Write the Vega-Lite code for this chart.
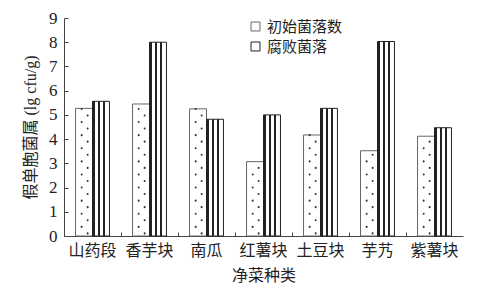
{
  "$schema": "https://vega.github.io/schema/vega-lite/v6.json",
  "width": 399,
  "height": 218,
  "autosize": {"type": "none"},
  "padding": {"left": 64, "top": 18, "right": 15, "bottom": 57},
  "background": "white",
  "config": {
    "view": {"stroke": null},
    "font": "Liberation Serif",
    "axis": {"labelFont": "Liberation Serif, Noto Sans CJK SC", "titleFont": "Liberation Serif, Noto Sans CJK SC"}
  },
  "data": {
    "values": [
      {"veg": "山药段", "series": "初始菌落数", "v": 5.27},
      {"veg": "山药段", "series": "腐败菌落", "v": 5.56},
      {"veg": "香芋块", "series": "初始菌落数", "v": 5.45},
      {"veg": "香芋块", "series": "腐败菌落", "v": 8.0},
      {"veg": "南瓜", "series": "初始菌落数", "v": 5.25},
      {"veg": "南瓜", "series": "腐败菌落", "v": 4.82},
      {"veg": "红薯块", "series": "初始菌落数", "v": 3.07},
      {"veg": "红薯块", "series": "腐败菌落", "v": 5.0},
      {"veg": "土豆块", "series": "初始菌落数", "v": 4.17},
      {"veg": "土豆块", "series": "腐败菌落", "v": 5.27},
      {"veg": "芋艿", "series": "初始菌落数", "v": 3.52},
      {"veg": "芋艿", "series": "腐败菌落", "v": 8.03},
      {"veg": "紫薯块", "series": "初始菌落数", "v": 4.12},
      {"veg": "紫薯块", "series": "腐败菌落", "v": 4.47}
    ]
  },
  "encoding": {
    "x": {
      "field": "veg", "type": "nominal", "sort": null,
      "scale": {"paddingInner": 0, "paddingOuter": 0},
      "axis": {
        "title": "净菜种类", "titleFontSize": 16, "titleFontWeight": "normal", "titleColor": "#222", "titlePadding": 9,
        "labelAngle": 0, "labelFontSize": 16, "labelColor": "#222", "labelPadding": 10,
        "domainColor": "#444", "tickColor": "#444", "tickSize": -4, "bandPosition": 0
      }
    },
    "y": {
      "field": "v", "type": "quantitative",
      "scale": {"domain": [0, 9]},
      "axis": {
        "title": "假单胞菌属 (lg cfu/g)", "titleFontSize": 16, "titleFontWeight": "normal", "titleColor": "#222", "titlePadding": 10,
        "values": [0, 1, 2, 3, 4, 5, 6, 7, 8, 9], "grid": false,
        "labelFontSize": 17, "labelColor": "#222", "labelPadding": 11,
        "domainColor": "#444", "tickColor": "#444", "tickSize": -4
      }
    }
  },
  "layer": [
    {
      "mark": {"type": "bar", "strokeWidth": 1},
      "encoding": {
        "xOffset": {
          "field": "series", "type": "nominal", "sort": ["初始菌落数", "腐败菌落"],
          "scale": {"paddingInner": 0, "paddingOuter": 0.68}
        },
        "fill": {
          "condition": {
            "test": "datum.series === '腐败菌落'",
            "value": {"gradient": "linear", "x1": 0, "y1": 0, "x2": 1, "y2": 0, "stops": [
              {"offset": 0, "color": "#222"}, {"offset": 0.12, "color": "#222"},
              {"offset": 0.12, "color": "#fff"}, {"offset": 0.34, "color": "#fff"},
              {"offset": 0.34, "color": "#222"}, {"offset": 0.42, "color": "#222"},
              {"offset": 0.42, "color": "#fff"}, {"offset": 0.64, "color": "#fff"},
              {"offset": 0.64, "color": "#222"}, {"offset": 0.72, "color": "#222"},
              {"offset": 0.72, "color": "#fff"}, {"offset": 1, "color": "#fff"}
            ]}
          },
          "value": "#ffffff"
        },
        "stroke": {
          "field": "series", "type": "nominal", "sort": ["初始菌落数", "腐败菌落"],
          "scale": {"domain": ["初始菌落数", "腐败菌落"], "range": ["#666666", "#222222"]},
          "legend": {
            "title": null, "orient": "none", "legendX": 184, "legendY": 1,
            "symbolSize": 80, "symbolStrokeWidth": 1, "symbolFillColor": "#ffffff",
            "labelFont": "Noto Sans CJK SC", "labelFontSize": 15, "labelColor": "#222", "rowPadding": 4, "labelOffset": 4,
            "encode": {
              "symbols": {
                "update": {
                  "shape": {"signal": "datum.value === '腐败菌落' ? 'M-0.6,-1H0.6V1H-0.6Z M-0.45,-1V1 M-0.05,-1V1 M0.3,-1V1' : 'M-0.6,-1H0.6V1H-0.6Z M-0.08,0H0.08'"},
                  "fill": {"value": "#ffffff"},
                  "stroke": {"value": "#333333"}
                }
              }
            }
          }
        }
      }
    },
    {
      "transform": [{"filter": "datum.series === '初始菌落数'"}],
      "mark": {"type": "rule", "stroke": "#333", "strokeWidth": 2, "strokeCap": "round", "strokeDash": [0.1, 13], "strokeDashOffset": 4},
      "encoding": {
        "x": {"field": "veg", "type": "nominal", "sort": null, "bandPosition": 0.31},
        "y": {"datum": 0, "type": "quantitative"},
        "y2": {"field": "v"}
      }
    },
    {
      "transform": [{"filter": "datum.series === '初始菌落数'"}],
      "mark": {"type": "rule", "stroke": "#333", "strokeWidth": 2, "strokeCap": "round", "strokeDash": [0.1, 13], "strokeDashOffset": 10.5},
      "encoding": {
        "x": {"field": "veg", "type": "nominal", "sort": null, "bandPosition": 0.415},
        "y": {"datum": 0, "type": "quantitative"},
        "y2": {"field": "v"}
      }
    }
  ]
}
